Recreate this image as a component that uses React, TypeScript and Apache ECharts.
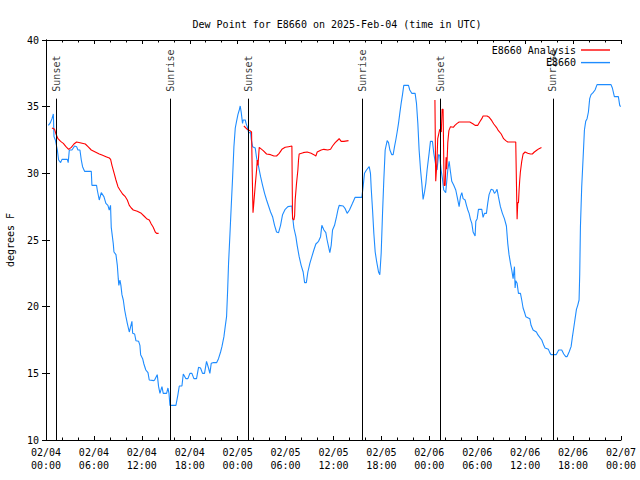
import React, { useEffect, useRef } from "react";
import * as echarts from "echarts";

const FONT = '"DejaVu Sans Mono", "Liberation Mono", monospace';

const chartTitle = "Dew Point for E8660 on 2025-Feb-04 (time in UTC)";
const yName = "degrees F";
const xTickLabels = [
  "02/04\n00:00", "02/04\n06:00", "02/04\n12:00", "02/04\n18:00",
  "02/05\n00:00", "02/05\n06:00", "02/05\n12:00", "02/05\n18:00",
  "02/06\n00:00", "02/06\n06:00", "02/06\n12:00", "02/06\n18:00",
  "02/07\n00:00",
];

// hours since 02/04 00:00 UTC
const sunHours = [1.29, 15.56, 25.32, 39.58, 49.35, 63.48];
const sunNames = ["Sunset", "Sunrise", "Sunset", "Sunrise", "Sunset", "Sunrise"];
const sunLineTop = 35.6;

const analysisDay1: [number, number][] = [
  [0.75, 33.4], [1.08, 33.3], [1.25, 32.95], [1.5, 32.6], [1.83, 32.4], [2.17, 32.25],
  [2.5, 32.0], [2.83, 31.8], [3.17, 31.95], [3.5, 32.2], [3.83, 32.35], [4.26, 32.3],
  [4.92, 32.2], [5.26, 32.0], [5.67, 31.75], [6.17, 31.6], [6.67, 31.45], [7.09, 31.35],
  [7.51, 31.25], [7.93, 31.15], [8.09, 31.05], [8.26, 30.6], [8.51, 30.05], [8.76, 29.5],
  [9.01, 29.0], [9.26, 28.75], [9.59, 28.45], [9.93, 28.25], [10.18, 28.0], [10.43, 27.6],
  [10.68, 27.4], [10.93, 27.25], [11.43, 27.15], [11.93, 27.0], [12.27, 26.8], [12.6, 26.6],
  [12.93, 26.5], [13.18, 26.2], [13.43, 25.95], [13.68, 25.6], [13.85, 25.5], [14.1, 25.5],
];

const analysisDay2: [number, number][] = [
  [24.78, 33.55], [25.2, 33.3], [25.53, 33.2], [25.74, 33.1], [25.82, 30.1], [25.92, 27.05],
  [26.0, 27.6], [26.2, 29.1], [26.37, 30.25], [26.45, 31.0], [26.55, 30.6], [26.7, 31.95],
  [27.2, 31.7], [27.62, 31.45], [28.12, 31.4], [28.54, 31.3], [28.87, 31.3], [29.2, 31.5],
  [29.54, 31.8], [29.95, 31.95], [30.37, 32.0], [30.79, 32.05], [30.87, 26.6], [31.04, 26.5],
  [31.13, 26.8], [31.2, 28.0], [31.37, 29.25], [31.54, 30.25], [31.62, 31.0], [31.7, 31.45],
  [32.2, 31.55], [32.7, 31.6], [33.2, 31.5], [33.54, 31.4], [33.79, 31.3], [33.96, 31.6],
  [34.46, 31.75], [34.79, 31.8], [35.29, 31.75], [35.63, 31.8], [35.88, 32.05], [36.21, 32.3],
  [36.55, 32.5], [36.71, 32.6], [36.96, 32.4], [37.3, 32.4], [37.88, 32.45],
];

const analysisDay3: [number, number][] = [
  [48.7, 35.5], [48.8, 29.4], [48.95, 30.8], [49.05, 32.6], [49.3, 33.3], [49.5, 33.1],
  [49.6, 34.8], [49.72, 34.8], [49.85, 29.1], [49.98, 29.1], [50.1, 31.2], [50.18, 30.3],
  [50.31, 32.3], [50.45, 33.2], [50.65, 33.5], [51.0, 33.45], [51.2, 33.6], [51.48, 33.75],
  [51.73, 33.85], [53.07, 33.85], [53.5, 33.7], [53.73, 33.6], [54.07, 33.6], [54.3, 33.85],
  [54.57, 34.1], [54.73, 34.3], [55.23, 34.3], [55.5, 34.2], [55.82, 33.95], [56.07, 33.7],
  [56.4, 33.45], [56.65, 33.2], [57.0, 32.95], [57.3, 32.6], [57.57, 32.45], [57.82, 32.35],
  [58.82, 32.35], [58.9, 29.5], [58.99, 26.55], [59.07, 27.8], [59.16, 27.8], [59.24, 28.75],
  [59.32, 29.5], [59.4, 30.1], [59.57, 30.9], [59.74, 31.45], [59.99, 31.6], [60.32, 31.5],
  [60.66, 31.45], [60.9, 31.45], [61.15, 31.6], [61.49, 31.75], [61.74, 31.85], [62.04, 31.93],
];

const observed: [number, number][] = [
  [0.3, 33.6], [0.55, 33.8], [0.75, 34.1], [0.92, 34.45], [1.0, 32.75], [1.17, 32.5],
  [1.42, 31.75], [1.58, 31.0], [1.83, 30.8], [2.0, 31.05], [2.67, 31.05], [2.78, 30.8],
  [2.92, 31.75], [3.25, 31.75], [3.58, 32.05], [3.83, 32.0], [4.0, 31.75], [4.25, 31.75],
  [4.42, 31.0], [4.58, 30.5], [4.83, 30.15], [5.67, 30.15], [5.75, 29.1], [6.33, 29.1],
  [6.42, 28.75], [6.67, 28.0], [6.92, 28.55], [7.25, 28.25], [7.5, 27.75], [7.75, 27.6],
  [7.92, 27.25], [8.08, 27.6], [8.17, 25.95], [8.42, 24.75], [8.51, 24.1], [8.76, 23.9],
  [8.93, 23.1], [9.05, 22.1], [9.12, 21.6], [9.26, 22.0], [9.38, 21.6], [9.51, 20.9],
  [9.68, 20.5], [9.85, 19.75], [10.01, 19.25], [10.18, 18.75], [10.43, 18.1], [10.6, 18.5],
  [10.76, 18.9], [10.85, 18.0], [11.1, 17.95], [11.26, 17.45], [11.6, 17.4], [11.76, 17.1],
  [11.85, 16.4], [12.1, 16.1], [12.26, 15.7], [12.5, 15.25], [12.77, 15.05], [12.93, 14.5],
  [13.5, 14.45], [13.6, 14.5], [13.93, 14.9], [14.1, 14.0], [14.27, 13.5], [14.52, 14.0],
  [14.68, 13.5], [15.1, 13.5], [15.27, 13.9], [15.4, 13.5], [15.52, 12.6], [16.27, 12.6],
  [16.52, 13.4], [16.69, 14.05], [17.02, 14.05], [17.19, 14.95], [17.52, 14.6], [17.77, 14.6],
  [18.02, 15.0], [18.27, 15.0], [18.52, 14.6], [18.85, 14.6], [19.1, 15.45], [19.35, 15.4],
  [19.6, 15.0], [19.85, 15.0], [20.1, 15.9], [20.35, 15.4], [20.52, 15.0], [20.69, 15.75],
  [20.9, 15.8], [21.36, 15.8], [21.6, 16.1], [21.86, 16.6], [22.03, 17.0], [22.28, 17.75],
  [22.44, 18.5], [22.61, 19.25], [22.75, 21.3], [22.86, 23.25], [23.03, 25.4], [23.2, 27.6],
  [23.37, 29.75], [23.53, 32.0], [23.7, 33.4], [23.86, 33.9], [24.03, 34.4], [24.2, 34.75],
  [24.32, 35.05], [24.45, 34.55], [24.61, 33.75], [24.7, 34.0], [24.95, 34.0], [25.05, 33.75],
  [25.2, 33.5], [25.37, 33.05], [25.62, 33.05], [25.7, 32.55], [25.87, 32.0], [26.2, 31.9],
  [26.37, 31.15], [26.62, 30.5], [26.87, 29.75], [27.12, 29.1], [27.37, 28.5], [27.62, 28.0],
  [27.87, 27.55], [28.12, 27.1], [28.37, 26.75], [28.62, 26.1], [28.87, 25.6], [29.12, 25.55],
  [29.37, 26.1], [29.62, 26.9], [29.95, 27.3], [30.29, 27.5], [30.79, 27.55], [30.87, 26.8],
  [31.04, 25.9], [31.29, 25.25], [31.45, 24.6], [31.7, 23.75], [31.95, 23.1], [32.2, 22.6],
  [32.38, 21.8], [32.6, 21.8], [32.79, 22.6], [33.04, 23.25], [33.29, 23.75], [33.54, 24.25],
  [33.79, 24.7], [34.13, 24.9], [34.38, 25.25], [34.54, 26.1], [34.8, 25.75], [35.04, 25.55],
  [35.2, 25.0], [35.54, 24.05], [35.71, 24.6], [35.88, 25.75], [36.13, 26.1], [36.38, 26.75],
  [36.55, 27.25], [36.71, 27.6], [37.21, 27.55], [37.46, 27.35], [37.71, 27.0], [38.0, 27.25],
  [38.38, 27.75], [38.71, 28.2], [39.55, 28.2], [39.71, 29.0], [39.88, 30.0], [40.13, 30.25],
  [40.47, 30.5], [40.63, 30.0], [40.72, 28.9], [40.89, 27.25], [41.05, 25.5], [41.22, 24.1],
  [41.4, 23.4], [41.64, 22.6], [41.8, 22.4], [41.97, 24.0], [42.14, 27.0], [42.3, 29.5],
  [42.47, 31.75], [42.72, 32.45], [42.89, 32.3], [43.06, 31.75], [43.3, 31.4], [43.47, 31.4],
  [43.64, 32.0], [43.8, 32.5], [43.97, 33.1], [44.14, 33.75], [44.3, 34.5], [44.47, 35.25],
  [44.64, 35.9], [44.8, 36.6], [45.39, 36.6], [45.55, 36.25], [45.8, 36.0], [46.22, 36.0],
  [46.39, 35.25], [46.56, 33.75], [46.72, 31.75], [46.9, 30.25], [47.06, 29.25], [47.22, 28.05],
  [47.4, 28.6], [47.56, 29.25], [47.72, 30.25], [47.97, 31.5], [48.14, 32.4], [48.39, 32.4],
  [48.56, 31.5], [48.81, 30.6], [48.97, 30.25], [49.15, 31.4], [49.3, 31.35], [49.47, 30.25],
  [49.64, 29.6], [49.8, 28.75], [50.05, 28.55], [50.31, 30.25], [50.48, 30.9], [50.65, 30.1],
  [50.81, 29.4], [51.06, 29.1], [51.31, 28.75], [51.48, 28.25], [51.73, 27.5], [51.9, 28.25],
  [52.07, 28.55], [52.23, 28.1], [52.48, 28.0], [52.65, 27.6], [52.82, 27.25], [52.98, 27.0],
  [53.15, 26.55], [53.32, 26.25], [53.48, 25.6], [53.73, 25.3], [53.82, 26.4], [53.99, 26.6],
  [54.15, 27.3], [54.57, 27.3], [54.73, 26.7], [54.9, 27.0], [55.15, 27.0], [55.31, 27.75],
  [55.48, 28.4], [55.73, 28.8], [55.98, 28.75], [56.15, 28.5], [56.3, 28.6], [56.48, 28.8],
  [56.65, 28.25], [56.9, 27.5], [57.15, 27.0], [57.4, 26.6], [57.65, 26.05], [57.82, 24.75],
  [57.98, 23.9], [58.16, 23.25], [58.32, 22.75], [58.49, 22.1], [58.66, 23.0], [58.74, 21.4],
  [58.82, 21.95], [58.99, 21.75], [59.16, 21.0], [59.41, 21.0], [59.57, 20.5], [59.74, 19.9],
  [59.91, 19.6], [60.08, 19.25], [60.58, 19.1], [60.74, 18.6], [60.99, 18.25], [61.41, 18.1],
  [61.58, 17.9], [61.83, 17.7], [62.08, 17.5], [62.33, 17.1], [62.49, 16.9], [62.91, 16.8],
  [63.08, 16.55], [63.24, 16.4], [63.88, 16.4], [64.2, 16.75], [64.58, 16.75], [64.83, 16.45],
  [65.08, 16.25], [65.24, 16.25], [65.5, 16.6], [65.75, 17.0], [65.92, 17.75], [66.08, 18.4],
  [66.25, 19.1], [66.42, 19.8], [66.58, 20.1], [66.75, 20.5], [66.83, 22.4], [66.92, 26.0],
  [67.08, 29.0], [67.25, 31.1], [67.42, 33.25], [67.58, 33.9], [67.75, 34.1], [67.92, 34.6],
  [68.08, 35.6], [68.25, 35.9], [68.5, 36.05], [68.75, 36.25], [69.0, 36.65], [70.75, 36.65],
  [70.92, 36.4], [71.17, 35.75], [71.67, 35.75], [71.84, 35.1], [71.95, 35.0],
];

const analysisName = "E8660 Analysis";
const observedName = "E8660";
const analysisColor = "#ff0000";
const observedColor = "#1e8cff";

export default function App() {
  const ref = useRef<HTMLDivElement>(null);
  useEffect(() => {
    if (!ref.current) return;
    const chart = echarts.init(ref.current, null, { renderer: "svg" });
    const analysis: any[] = [
      ...analysisDay1,
      [19, "-"],
      ...analysisDay2,
      [43, "-"],
      ...analysisDay3,
    ];
    const txt = { fontFamily: FONT, fontSize: 10, color: "#000" };
    const axisLine = { show: true, lineStyle: { color: "#000", width: 1 } };
    const option: any = {
      animation: false,
      backgroundColor: "#fff",
      textStyle: { fontFamily: FONT },
      title: {
        text: chartTitle,
        left: 332,
        top: 14,
        textAlign: "center",
        textStyle: { ...txt, fontWeight: "normal" },
      },
      legend: {
        data: [analysisName, observedName],
        orient: "vertical",
        right: 30,
        top: 45,
        align: "right",
        icon: "rect",
        itemWidth: 29,
        itemHeight: 1.4,
        itemGap: 2.6,
        padding: 0,
        textStyle: txt,
      },
      grid: { left: 46, right: 19, top: 40, bottom: 40, outerBoundsMode: "none", containLabel: false },
      xAxis: [
        {
          type: "value",
          min: 0,
          max: 72,
          interval: 6,
          axisLine,
          axisTick: { inside: true, length: 4, lineStyle: { color: "#000" } },
          minorTick: { show: true, splitNumber: 3, length: 2.5, lineStyle: { color: "#000" } },
          splitLine: { show: false },
          axisLabel: {
            ...txt,
            margin: 6,
            lineHeight: 13,
            formatter: (v: number) => xTickLabels[Math.round(v / 6)] ?? "",
          },
        },
        {
          type: "value",
          position: "top",
          min: 0,
          max: 72,
          interval: 6,
          axisLine,
          axisTick: { inside: true, length: 4, lineStyle: { color: "#000" } },
          minorTick: { show: true, splitNumber: 3, length: 2.5, lineStyle: { color: "#000" } },
          splitLine: { show: false },
          axisLabel: { show: false },
        },
      ],
      yAxis: [
        {
          type: "value",
          min: 10,
          max: 40,
          interval: 5,
          name: yName,
          nameLocation: "middle",
          nameGap: 31,
          nameTextStyle: txt,
          axisLine,
          axisTick: { inside: true, length: 4, lineStyle: { color: "#000" } },
          splitLine: { show: false },
          axisLabel: { ...txt, margin: 7 },
        },
        {
          type: "value",
          position: "right",
          min: 10,
          max: 40,
          interval: 5,
          axisLine,
          axisTick: { inside: true, length: 4, lineStyle: { color: "#000" } },
          splitLine: { show: false },
          axisLabel: { show: false },
        },
      ],
      series: [
        {
          name: analysisName,
          type: "line",
          data: analysis,
          symbol: "none",
          connectNulls: false,
          lineStyle: { color: analysisColor, width: 1.1 },
          itemStyle: { color: analysisColor },
          z: 3,
        },
        {
          name: observedName,
          type: "line",
          data: observed,
          symbol: "none",
          lineStyle: { color: observedColor, width: 1.1 },
          itemStyle: { color: observedColor },
          z: 2,
        },
        {
          name: "sun",
          type: "scatter",
          symbolSize: 0,
          z: 5,
          silent: true,
          data: sunHours.map((h, i) => [h, sunLineTop, sunNames[i]]),
          label: {
            show: true,
            position: "top",
            distance: 7,
            rotate: 90,
            align: "left",
            verticalAlign: "middle",
            ...txt,
            formatter: (p: any) => p.value[2],
          },
          markLine: {
            silent: true,
            symbol: ["none", "none"],
            label: { show: false },
            lineStyle: { color: "#000", width: 1, type: "solid" },
            data: sunHours.map((h) => [{ coord: [h, 10] }, { coord: [h, sunLineTop] }]),
          },
        },
      ],
    };
    chart.setOption(option);
    return () => chart.dispose();
  }, []);
  return (
    <div
      ref={ref}
      style={{ position: "fixed", left: 0, top: 0, width: 640, height: 480 }}
    />
  );
}
